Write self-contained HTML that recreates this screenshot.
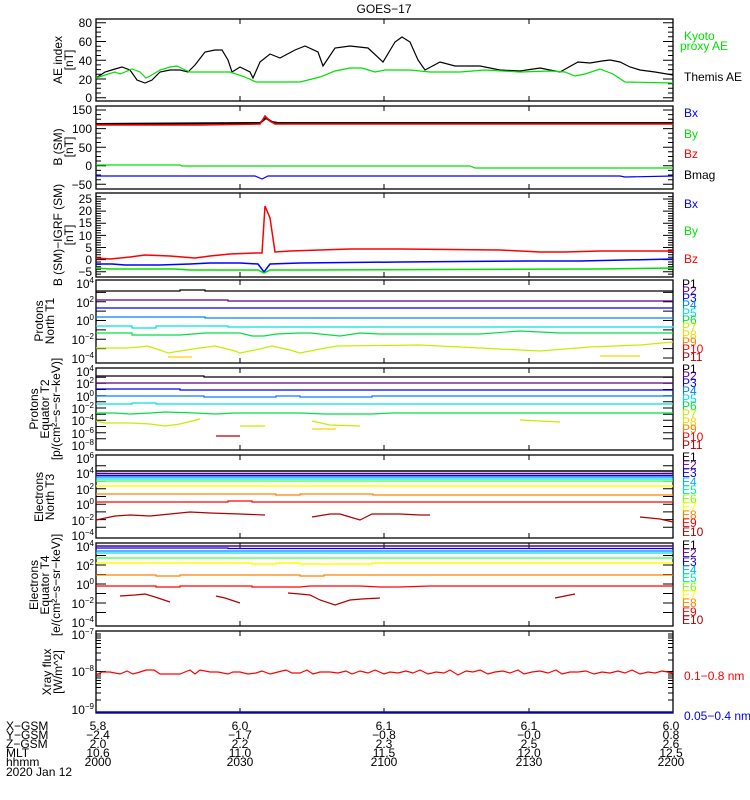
<!DOCTYPE html>
<html><head><meta charset="utf-8"><style>
body{margin:0;background:#fff;}
svg{display:block;font-family:"Liberation Sans",sans-serif;}
text{font-size:12px;}
.s{font-size:9.5px;}
</style></head><body>
<svg width="750" height="800" viewBox="0 0 750 800" xmlns="http://www.w3.org/2000/svg">
<rect width="750" height="800" fill="#fff"/>
<text x="384" y="13" text-anchor="middle" font-size="13">GOES−17</text>
<g fill="none" stroke="#000" stroke-width="1.3">
<rect x="96" y="19" width="577" height="82"/>
<rect x="96" y="106" width="577" height="83"/>
<rect x="96" y="193" width="577" height="84"/>
<rect x="96" y="280" width="577" height="83"/>
<rect x="96" y="368" width="577" height="82"/>
<rect x="96" y="455" width="577" height="83"/>
<rect x="96" y="543" width="577" height="83"/>
<rect x="96" y="631" width="577" height="82"/>
</g>
<g stroke="#000" stroke-width="1">
<path d="M240,19v5M384,19v5M529,19v5M240,101v-5M384,101v-5M529,101v-5
M240,106v5M384,106v5M529,106v5M240,189v-5M384,189v-5M529,189v-5
M240,193v5M384,193v5M529,193v5M240,277v-5M384,277v-5M529,277v-5
M240,280v5M384,280v5M529,280v5M240,363v-5M384,363v-5M529,363v-5
M240,368v5M384,368v5M529,368v5M240,450v-5M384,450v-5M529,450v-5
M240,455v5M384,455v5M529,455v5M240,538v-5M384,538v-5M529,538v-5
M240,543v5M384,543v5M529,543v5M240,626v-5M384,626v-5M529,626v-5
M240,631v5M384,631v5M529,631v5M240,713v-5M384,713v-5M529,713v-5"/>
<path d="M96,97.7h10M96,79h10M96,60.2h10M96,41.5h10M96,22.7h10M673,97.7h-10M673,79h-10M673,60.2h-10M673,41.5h-10M673,22.7h-10
M96,93h5M96,88.3h5M96,83.7h5M96,74.3h5M96,69.6h5M96,64.9h5M96,55.5h5M96,50.8h5M96,46.2h5M96,36.8h5M96,32.1h5M96,27.4h5
M673,93h-5M673,88.3h-5M673,83.7h-5M673,74.3h-5M673,69.6h-5M673,64.9h-5M673,55.5h-5M673,50.8h-5M673,46.2h-5M673,36.8h-5M673,32.1h-5M673,27.4h-5"/>
<path d="M96,110h10M96,128.6h10M96,147.2h10M96,165.8h10M96,184.3h10M673,110h-10M673,128.6h-10M673,147.2h-10M673,165.8h-10M673,184.3h-10
M96,114.6h5M96,119.3h5M96,124h5M96,133.2h5M96,138h5M96,142.5h5M96,151.8h5M96,156.5h5M96,161h5M96,170.4h5M96,175h5M96,179.7h5
M673,114.6h-5M673,119.3h-5M673,124h-5M673,133.2h-5M673,138h-5M673,142.5h-5M673,151.8h-5M673,156.5h-5M673,161h-5M673,170.4h-5M673,175h-5M673,179.7h-5"/>
<path d="M96,199h10M96,211.1h10M96,223.2h10M96,235.4h10M96,247.5h10M96,259.6h10M96,271.7h10M673,199h-10M673,211.1h-10M673,223.2h-10M673,235.4h-10M673,247.5h-10M673,259.6h-10M673,271.7h-10
M96,196.6h5M96,201.4h5M96,203.8h5M96,206.3h5M96,208.7h5M96,213.5h5M96,216h5M96,218.4h5M96,220.8h5M96,225.6h5M96,228h5M96,230.5h5M96,232.9h5M96,237.8h5M96,240.2h5M96,242.6h5M96,245h5M96,250h5M96,252.3h5M96,254.8h5M96,257.2h5M96,262h5M96,264.4h5M96,266.8h5M96,269.3h5M96,274.1h5
M673,196.6h-5M673,201.4h-5M673,203.8h-5M673,206.3h-5M673,208.7h-5M673,213.5h-5M673,216h-5M673,218.4h-5M673,220.8h-5M673,225.6h-5M673,228h-5M673,230.5h-5M673,232.9h-5M673,237.8h-5M673,240.2h-5M673,242.6h-5M673,245h-5M673,250h-5M673,252.3h-5M673,254.8h-5M673,257.2h-5M673,262h-5M673,264.4h-5M673,266.8h-5M673,269.3h-5M673,274.1h-5"/>
<path d="M96,292.4h10M96,301.8h10M96,311.1h10M96,320.5h10M96,329.9h10M96,339.2h10M96,348.6h10M673,292.4h-10M673,301.8h-10M673,311.1h-10M673,320.5h-10M673,329.9h-10M673,339.2h-10M673,348.6h-10M673,358h-10"/>
<path d="M96,377.2h10M96,383.3h10M96,389.5h10M96,395.7h10M96,401.8h10M96,408h10M96,414.2h10M96,420.3h10M96,426.5h10M96,432.7h10M96,438.8h10M673,377.2h-10M673,383.3h-10M673,389.5h-10M673,395.7h-10M673,401.8h-10M673,408h-10M673,414.2h-10M673,420.3h-10M673,426.5h-10M673,432.7h-10M673,438.8h-10"/>
<path d="M96,465.7h10M96,473.4h10M96,481.1h10M96,488.8h10M96,496.5h10M96,504.2h10M96,511.9h10M96,519.6h10M96,527.3h10M673,465.7h-10M673,473.4h-10M673,481.1h-10M673,488.8h-10M673,496.5h-10M673,504.2h-10M673,511.9h-10M673,519.6h-10M673,527.3h-10"/>
<path d="M96,555.5h10M96,565h10M96,574.5h10M96,584h10M96,593.5h10M96,603h10M96,612.5h10M673,555.5h-10M673,565h-10M673,574.5h-10M673,584h-10M673,593.5h-10M673,603h-10M673,612.5h-10"/>
<path d="M96,671.5h10M673,671.5h-10
M96,634h5M96,636h5M96,638h5M96,640.5h5M96,643.5h5M96,647.5h5M96,653h5M96,660h5M96,674h5M96,676h5M96,678h5M96,680.5h5M96,683.5h5M96,687.5h5M96,693h5M96,700h5
M673,634h-5M673,636h-5M673,638h-5M673,640.5h-5M673,643.5h-5M673,647.5h-5M673,653h-5M673,660h-5M673,674h-5M673,676h-5M673,678h-5M673,680.5h-5M673,683.5h-5M673,687.5h-5M673,693h-5M673,700h-5"/>
</g>
<g text-anchor="end" font-size="12">
<text x="92" y="27">80</text><text x="92" y="46">60</text><text x="92" y="65">40</text><text x="92" y="84">20</text><text x="92" y="102">0</text>
<text x="92" y="114">150</text><text x="92" y="133">100</text><text x="92" y="152">50</text><text x="92" y="170">0</text><text x="92" y="189">−50</text>
<text x="92" y="203">25</text><text x="92" y="215">20</text><text x="92" y="227">15</text><text x="92" y="240">10</text><text x="92" y="252">5</text><text x="92" y="264">0</text><text x="92" y="276">−5</text>
</g>
<g font-size="12" text-anchor="end">
<text x="94" y="288">10<tspan font-size="8" dy="-5">4</tspan></text>
<text x="94" y="307">10<tspan font-size="8" dy="-5">2</tspan></text>
<text x="94" y="325">10<tspan font-size="8" dy="-5">0</tspan></text>
<text x="94" y="344">10<tspan font-size="8" dy="-5">−2</tspan></text>
<text x="94" y="363">10<tspan font-size="8" dy="-5">−4</tspan></text>
<text x="94" y="376">10<tspan font-size="8" dy="-5">4</tspan></text>
<text x="94" y="388">10<tspan font-size="8" dy="-5">2</tspan></text>
<text x="94" y="401">10<tspan font-size="8" dy="-5">0</tspan></text>
<text x="94" y="413">10<tspan font-size="8" dy="-5">−2</tspan></text>
<text x="94" y="425">10<tspan font-size="8" dy="-5">−4</tspan></text>
<text x="94" y="438">10<tspan font-size="8" dy="-5">−6</tspan></text>
<text x="94" y="450">10<tspan font-size="8" dy="-5">−8</tspan></text>
<text x="94" y="463">10<tspan font-size="8" dy="-5">6</tspan></text>
<text x="94" y="478">10<tspan font-size="8" dy="-5">4</tspan></text>
<text x="94" y="494">10<tspan font-size="8" dy="-5">2</tspan></text>
<text x="94" y="509">10<tspan font-size="8" dy="-5">0</tspan></text>
<text x="94" y="525">10<tspan font-size="8" dy="-5">−2</tspan></text>
<text x="94" y="540">10<tspan font-size="8" dy="-5">−4</tspan></text>
<text x="94" y="551">10<tspan font-size="8" dy="-5">4</tspan></text>
<text x="94" y="570">10<tspan font-size="8" dy="-5">2</tspan></text>
<text x="94" y="589">10<tspan font-size="8" dy="-5">0</tspan></text>
<text x="94" y="608">10<tspan font-size="8" dy="-5">−2</tspan></text>
<text x="94" y="627">10<tspan font-size="8" dy="-5">−4</tspan></text>
<text x="94" y="639">10<tspan font-size="8" dy="-5">−7</tspan></text>
<text x="94" y="676">10<tspan font-size="8" dy="-5">−8</tspan></text>
<text x="94" y="714">10<tspan font-size="8" dy="-5">−9</tspan></text>
</g>
<g text-anchor="middle" font-size="12">
<text transform="translate(62,60) rotate(-90)">AE index</text><text transform="translate(73,60) rotate(-90)">[nT]</text>
<text transform="translate(62,147) rotate(-90)">B (SM)</text><text transform="translate(73,147) rotate(-90)">[nT]</text>
<text transform="translate(62,235) rotate(-90)">B (SM)−IGRF (SM)</text><text transform="translate(73,235) rotate(-90)">[nT]</text>
<text transform="translate(43,321) rotate(-90)">Protons</text><text transform="translate(54,321) rotate(-90)">North T1</text>
<text transform="translate(38,409) rotate(-90)">Protons</text><text transform="translate(49,409) rotate(-90)">Equator T2</text>
<text transform="translate(60,409) rotate(-90)" font-size="11">[p/(cm²−s−sr−keV)]</text>
<text transform="translate(43,497) rotate(-90)">Electrons</text><text transform="translate(54,497) rotate(-90)">North T3</text>
<text transform="translate(38,585) rotate(-90)">Electrons</text><text transform="translate(49,585) rotate(-90)">Equator T4</text>
<text transform="translate(60,585) rotate(-90)" font-size="11">[e/(cm²−s−sr−keV)]</text>
<text transform="translate(51,672) rotate(-90)">Xray flux</text><text transform="translate(62,672) rotate(-90)">[W/m^2]</text>
</g>
<g font-size="12">
<text x="684" y="40" fill="#00e000">Kyoto</text><text x="680" y="50" fill="#00e000">proxy AE</text>
<text x="684" y="81" fill="#000">Themis AE</text>
<text x="684" y="117" fill="#0000ff">Bx</text><text x="684" y="138" fill="#00e000">By</text><text x="684" y="158" fill="#ff0000">Bz</text><text x="684" y="179" fill="#000">Bmag</text>
<text x="684" y="208" fill="#0000ff">Bx</text><text x="684" y="235" fill="#00e000">By</text><text x="684" y="263" fill="#ff0000">Bz</text>
<text x="684" y="680" fill="#ff0000">0.1−0.8 nm</text><text x="684" y="720" fill="#0000ff">0.05−0.4 nm</text>
</g>
<g class="s">
<text x="682" y="288" fill="#000">P1</text><text x="682" y="295" fill="#5a0080">P2</text><text x="682" y="302" fill="#0000ff">P3</text><text x="682" y="309" fill="#0080ff">P4</text><text x="682" y="317" fill="#00e0e0">P5</text><text x="682" y="324" fill="#00e040">P6</text><text x="682" y="331" fill="#c0f000">P7</text><text x="682" y="339" fill="#ffd000">P8</text><text x="682" y="346" fill="#ff8000">P9</text><text x="682" y="353" fill="#ff0000">P10</text><text x="682" y="361" fill="#b00000">P11</text>
<text x="682" y="373" fill="#000">P1</text><text x="682" y="380" fill="#5a0080">P2</text><text x="682" y="387" fill="#0000ff">P3</text><text x="682" y="395" fill="#0080ff">P4</text><text x="682" y="403" fill="#00e0e0">P5</text><text x="682" y="410" fill="#00e040">P6</text><text x="682" y="418" fill="#c0f000">P7</text><text x="682" y="426" fill="#ffd000">P8</text><text x="682" y="433" fill="#ff8000">P9</text><text x="682" y="441" fill="#ff0000">P10</text><text x="682" y="449" fill="#b00000">P11</text>
<text x="682" y="461" fill="#000">E1</text><text x="682" y="469" fill="#5a0080">E2</text><text x="682" y="477" fill="#0000ff">E3</text><text x="682" y="486" fill="#00b0ff">E4</text><text x="682" y="494" fill="#00f0a0">E5</text><text x="682" y="503" fill="#80ff00">E6</text><text x="682" y="511" fill="#ffff00">E7</text><text x="682" y="519" fill="#ff8000">E8</text><text x="682" y="527" fill="#ff0000">E9</text><text x="682" y="536" fill="#b00000">E10</text>
<text x="682" y="549" fill="#000">E1</text><text x="682" y="557" fill="#5a0080">E2</text><text x="682" y="566" fill="#0000ff">E3</text><text x="682" y="574" fill="#00b0ff">E4</text><text x="682" y="582" fill="#00f0a0">E5</text><text x="682" y="591" fill="#80ff00">E6</text><text x="682" y="599" fill="#ffff00">E7</text><text x="682" y="607" fill="#ff8000">E8</text><text x="682" y="616" fill="#ff0000">E9</text><text x="682" y="624" fill="#b00000">E10</text>
</g>
<g fill="none" stroke-width="1.2">
<polyline stroke="#000" points="96,78 105,72 115,69 122,67 130,70 137,80 145,83 152,80 160,72 170,70 180,70 188,72 195,65 205,52 215,50 222,50 228,60 232,72 240,67 250,72 253,78 260,62 270,54 280,58 295,50 305,46 318,52 323,66 335,48 350,46 368,48 383,62 395,42 402,37 410,42 418,60 425,70 440,62 455,66 480,66 500,70 520,71 540,68 560,72 578,62 590,63 602,61 610,60 620,62 630,67 640,70 655,72 673,75"/>
<polyline stroke="#00e000" points="96,78 105,75 115,72 120,74 125,72 132,69 140,72 146,78 150,76 160,70 170,67 177,66 183,69 190,72 230,72 245,77 256,82 300,82 320,77 335,71 350,68 362,68 375,72 385,70 410,70 430,72 460,72 485,70 520,72 550,71 565,72 575,76 585,74 600,69 613,74 625,82 673,83"/>
<polyline stroke="#000" stroke-width="2" points="96,124 260,123 266,118 272,122 278,123 673,123"/>
<polyline stroke="#ff0000" stroke-width="1.5" points="96,125 200,125 260,124 265,116 270,121 275,124 673,124"/>
<polyline stroke="#00e000" points="96,165 180,165 182,166 470,166 475,168 673,168"/>
<polyline stroke="#0000ff" points="96,176 255,176 262,179 268,176 620,176 625,177 673,176"/>
<polyline stroke="#ff0000" stroke-width="1.5" points="96,258 110,259 130,257 145,255 170,256 195,258 210,256 230,254 256,253 262,253 265,206 270,218 275,252 290,251 350,249 400,249 500,250 540,252 565,252 600,251 673,251"/>
<polyline stroke="#0000ff" stroke-width="1.5" points="96,264 112,264 125,265 160,265 190,264 210,263 240,263 258,264 264,272 270,264 300,263 400,262 530,261 580,261 673,259"/>
<polyline stroke="#00e000" stroke-width="1.5" points="96,268 110,269 175,269 190,270 245,270 258,270 264,273 270,270 300,270 600,269 673,268"/>
<polyline stroke="#000" points="96,291 180,291 180,290 205,290 205,291 673,291"/>
<polyline stroke="#5a0080" points="96,300 228,300 228,301 673,301"/>
<polyline stroke="#0000ff" points="96,308 673,308"/>
<polyline stroke="#0080ff" points="96,317 205,317 205,318 673,318"/>
<polyline stroke="#00e0e0" points="96,326 132,326 132,328 156,328 156,326 228,326 228,327 673,327 673,326"/>
<polyline stroke="#00e040" points="96,333 132,333 132,335 180,335 205,333 240,333 252,336 264,336 276,334 300,333 310,333 330,335 340,336 360,333 380,334 480,334 520,331 560,333 673,333"/>
<polyline stroke="#c0f000" points="96,348 126,348 140,347 147,346 160,350 168,353 180,351 200,348 215,346 235,351 240,353 260,349 272,346 290,350 300,353 320,349 337,346 420,345 500,349 540,351 590,347 640,345 673,342"/>
<polyline stroke="#ffd000" points="168,357 192,357"/>
<polyline stroke="#ffd000" points="600,356 640,356"/>
<polyline stroke="#000" points="96,376 204,376 204,377 673,377"/>
<polyline stroke="#5a0080" points="96,383 673,383"/>
<polyline stroke="#0000ff" points="96,389 180,389 180,390 673,390"/>
<polyline stroke="#0080ff" points="96,396 204,396 204,397 276,397 276,396 300,396 300,397 372,397 372,396 673,396"/>
<polyline stroke="#00e0e0" points="96,404 132,404 132,403 156,403 156,404 673,404"/>
<polyline stroke="#00e040" points="96,413 115,413 130,414 150,413 165,412 195,413 215,414 235,413 300,413 325,414 372,414 392,413 673,413"/>
<polyline stroke="#c0f000" points="96,421 105,423 130,423 150,424 165,426 180,424 200,419"/>
<polyline stroke="#c0f000" points="240,426 265,426"/>
<polyline stroke="#c0f000" points="312,421 330,425 360,426"/>
<polyline stroke="#c0f000" points="520,420 560,422"/>
<polyline stroke="#ffd000" points="312,429 336,429"/>
<polyline stroke="#b00000" points="216,436 240,436"/>
<polyline stroke="#000" stroke-width="1.5" points="96,471 673,471"/>
<polyline stroke="#5a0080" stroke-width="1.5" points="96,473.5 673,473.5"/>
<polyline stroke="#0000ff" points="96,475.5 673,475.5"/>
<polyline stroke="#0080ff" points="96,477 673,477"/>
<polyline stroke="#00e0e0" points="96,479 673,479"/>
<polyline stroke="#40ff40" points="96,481 673,481"/>
<polyline stroke="#ffff00" stroke-width="1.5" points="96,486 673,486"/>
<polyline stroke="#ff8000" points="96,494 276,494 276,495 300,495 300,494 373,494 373,495 673,495"/>
<polyline stroke="#ff0000" points="96,502 228,502 228,501 252,501 252,502 673,502"/>
<polyline stroke="#b00000" points="96,520 115,516 130,515 150,516 170,514 190,512 210,513 240,514 265,515"/>
<polyline stroke="#b00000" points="312,517 330,514 340,514 350,517 360,520 372,514 400,514 420,515 430,515"/>
<polyline stroke="#b00000" points="640,517 660,519 673,522"/>
<polyline stroke="#5a0080" stroke-width="1.5" points="96,546 673,546"/>
<polyline stroke="#0000ff" points="96,548 228,548 228,548.5 673,548.5"/>
<polyline stroke="#0080ff" points="96,551 673,551"/>
<polyline stroke="#00e0e0" points="96,553 673,553"/>
<polyline stroke="#40ff40" points="96,558 673,558"/>
<polyline stroke="#ffff00" stroke-width="1.5" points="96,563 252,563 252,564 276,564 276,563 300,563 300,564 372,564 372,563 673,563"/>
<polyline stroke="#ff8000" points="96,575 156,575 156,576 180,576 180,575 300,575 300,576 324,576 324,575 673,575"/>
<polyline stroke="#ff0000" points="96,586 156,586 156,587 180,587 180,586 252,586 252,587 300,587 310,586 360,586 380,587 400,587 430,586 673,586"/>
<polyline stroke="#b00000" points="120,596 135,595 145,594 155,597 170,602"/>
<polyline stroke="#b00000" points="216,596 225,598 240,603"/>
<polyline stroke="#b00000" points="288,593 300,594 310,595 320,600 335,605 350,600 362,599 380,598"/>
<polyline stroke="#b00000" points="555,598 575,594"/>
<polyline stroke="#ff0000" points="96,675 102,672 110,672 120,674 127,671 133,674 140,672 146,670 154,670 160,674 168,674 180,674 185,672 190,670 195,674 200,670 210,672 218,672 228,674 233,672 240,672 248,674 256,673 262,671 270,674 278,672 286,670 292,673 300,673 307,670 313,674 320,672 330,672 338,673 346,671 352,674 360,671 368,673 375,670 384,674 390,672 398,673 406,671 413,673 420,670 428,674 436,672 444,673 450,670 458,675 466,671 473,672 480,670 488,674 495,672 503,671 510,673 518,670 524,674 532,672 540,671 548,673 556,670 562,674 570,672 578,672 586,671 594,674 602,672 610,673 618,671 625,673 632,670 640,674 648,672 655,673 662,671 673,673"/>
<polyline stroke="#0000ff" stroke-width="1.5" points="96,712 673,712"/>
</g>
<g font-size="12">
<text x="6" y="730">X−GSM</text><text x="6" y="739">Y−GSM</text><text x="6" y="748">Z−GSM</text><text x="6" y="757">MLT</text><text x="6" y="766">hhmm</text><text x="6" y="776">2020 Jan 12</text>
</g>
<g font-size="12" text-anchor="middle">
<text x="98" y="730">5.8</text><text x="98" y="739">−2.4</text><text x="98" y="748">2.0</text><text x="98" y="757">10.6</text><text x="98" y="766">2000</text>
<text x="240" y="730">6.0</text><text x="240" y="739">−1.7</text><text x="240" y="748">2.2</text><text x="240" y="757">11.0</text><text x="240" y="766">2030</text>
<text x="384" y="730">6.1</text><text x="384" y="739">−0.8</text><text x="384" y="748">2.3</text><text x="384" y="757">11.5</text><text x="384" y="766">2100</text>
<text x="529" y="730">6.1</text><text x="529" y="739">−0.0</text><text x="529" y="748">2.5</text><text x="529" y="757">12.0</text><text x="529" y="766">2130</text>
<text x="671" y="730">6.0</text><text x="671" y="739">0.8</text><text x="671" y="748">2.6</text><text x="671" y="757">12.5</text><text x="671" y="766">2200</text>
</g>
</svg>
</body></html>
